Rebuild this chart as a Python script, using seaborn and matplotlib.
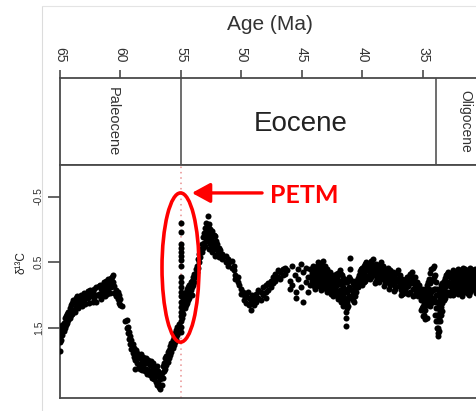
import matplotlib
matplotlib.use("Agg")
import matplotlib.pyplot as plt
from matplotlib.patches import Ellipse
from matplotlib.lines import Line2D
import seaborn as sns
import pandas as pd

# ---------------- data (age in Ma, d13C in permil) ----------------
epoch_bounds = [55.0, 33.9]
epoch_names = ["Paleocene", "Eocene", "Oligocene"]
age_ticks = [65, 60, 55, 50, 45, 40, 35]
d13c_ticks = [-0.5, 0.5, 1.5]
d13c_tick_labels = ["-0.5", "0.5", "1.5"]
petm_age = 55.0

paleocene_pts = [
    (65.0, [1.85, 1.72, 1.60, 1.50]), (64.9, [1.55, 1.68]), (64.8, [1.45, 1.60]),
    (64.7, [1.42, 1.55]), (64.6, [1.35, 1.50]), (64.5, [1.32, 1.46]),
    (64.4, [1.28, 1.42]), (64.3, [1.25, 1.38]), (64.2, [1.20, 1.35]),
    (64.1, [1.15, 1.30]), (64.0, [1.12, 1.28]), (63.9, [1.08, 1.22]),
    (63.8, [1.10, 1.25]), (63.7, [1.05, 1.18]), (63.6, [1.02, 1.15]),
    (63.5, [1.08, 1.20]), (63.3, [1.00, 1.12]), (63.2, [1.06, 1.16]),
    (63.0, [0.96, 1.08]), (62.9, [1.02, 1.14]), (62.7, [0.94, 1.05]),
    (62.6, [1.00, 1.12]), (62.5, [0.92, 1.02]), (62.3, [0.96, 1.10]),
    (62.2, [0.90, 1.04]), (62.0, [0.88, 1.00, 1.10]), (61.8, [0.86, 0.98]),
    (61.7, [0.84, 1.02]), (61.6, [0.90, 1.06]), (61.5, [0.84, 0.96]),
    (61.4, [0.80, 0.95]), (61.3, [0.88, 1.02]), (61.2, [0.78, 0.92]),
    (61.1, [0.84, 0.98]), (61.0, [0.76, 0.90]), (60.9, [0.82, 0.96]),
    (60.8, [0.74, 0.88]), (60.7, [0.72, 0.86]), (60.6, [0.69, 0.80]),
    (60.5, [0.86, 0.96]), (60.4, [0.92, 1.02]), (60.2, [0.95, 1.06]),
    (60.1, [1.00, 1.12]), (60.0, [1.06, 1.15]), (59.9, [1.17]),
    (59.6, [1.40]), (59.5, [1.38, 1.50]), (59.4, [1.48, 1.58]),
    (59.3, [1.56, 1.66]), (59.2, [1.62, 1.74]), (59.1, [1.68, 1.82]),
    (59.0, [1.74, 1.88]), (58.9, [1.80, 1.94]), (58.8, [1.86, 1.98, 2.12]),
    (58.7, [1.84, 1.96]), (58.6, [1.88, 2.04]), (58.5, [1.94, 2.08]),
    (58.4, [1.96, 2.12]), (58.3, [1.90, 2.05]), (58.2, [1.98, 2.14]),
    (58.1, [1.94, 2.08]), (58.0, [2.00, 2.16]), (57.9, [1.96, 2.12]),
    (57.8, [2.04, 2.20]), (57.7, [1.98, 2.14]), (57.6, [2.06, 2.22]),
    (57.5, [2.00, 2.16]), (57.4, [2.08, 2.26]), (57.3, [2.04, 2.20]),
    (57.2, [2.10, 2.28]), (57.1, [2.14, 2.32]), (57.0, [2.08, 2.22, 2.36]),
    (56.9, [2.16, 2.33]), (56.8, [2.24, 2.40]), (56.7, [2.28, 2.43]),
    (56.6, [2.18, 2.36]), (56.5, [2.08, 2.26]), (56.4, [2.03, 2.16]),
    (56.3, [1.96, 2.12]), (56.2, [1.93, 2.06]), (56.1, [1.86, 2.01]),
    (56.0, [1.83, 1.96]), (55.9, [1.78, 1.91]), (55.8, [1.73, 1.86]),
    (55.7, [1.68, 1.81]), (55.6, [1.63, 1.76]), (55.5, [1.58, 1.71]),
    (55.4, [1.53, 1.66]), (55.3, [1.48, 1.61]), (55.2, [1.44, 1.56]),
]

petm_pts = [
    (55.02, [-0.10, 0.04, 0.22, 0.28, 0.34, 0.40, 0.46, 0.55]),
    (54.98, [0.72, 0.80, 0.88, 0.95, 1.02, 1.10, 1.18, 1.25, 1.32, 1.40,
             1.48, 1.56]),
]

eocene_early_pts = [
    (54.9, [1.15, 1.25, 1.35]), (54.8, [1.05, 1.15, 1.28]),
    (54.7, [1.00, 1.10, 1.20]), (54.6, [0.95, 1.05, 1.15]),
    (54.5, [0.90, 1.00, 1.12]), (54.4, [0.88, 0.98, 1.08]),
    (54.3, [0.85, 0.95, 1.05]), (54.2, [0.80, 0.92]),
    (54.1, [0.78, 0.88, 1.00]), (54.0, [0.72, 0.85]), (53.9, [0.68, 0.80]),
    (53.8, [0.60, 0.72]), (53.7, [0.55, 0.65]), (53.6, [0.45, 0.58]),
    (53.5, [0.38, 0.50]), (53.4, [0.30, 0.42]), (53.3, [0.22, 0.35]),
    (53.2, [0.12, 0.28]), (53.1, [0.05, 0.20]), (53.0, [-0.02, 0.10, 0.25]),
    (52.9, [-0.10, 0.05, 0.18]), (52.8, [-0.20, -0.05, 0.12]),
    (52.7, [-0.08, 0.02, 0.15, 0.30]), (52.6, [0.00, 0.10, 0.22]),
    (52.5, [0.05, 0.15, 0.28]), (52.4, [0.02, 0.12, 0.35]),
    (52.3, [0.08, 0.20]), (52.2, [0.10, 0.25, 0.40]), (52.1, [0.18, 0.30]),
    (52.0, [0.22, 0.38]), (51.9, [0.28, 0.42]), (51.8, [0.32]),
    (51.6, [0.38, 0.45]), (51.5, [0.42]), (51.3, [0.40, 0.50]),
    (51.1, [0.45, 0.55]), (51.0, [0.50]), (50.8, [0.48, 0.58]),
    (50.6, [0.55, 0.62]), (50.5, [0.70, 0.75]), (50.3, [0.72, 0.80]),
    (50.2, [0.85]), (50.0, [0.90, 0.98]), (49.9, [0.95]),
    (49.8, [1.00, 1.08]), (49.6, [1.02, 1.12]), (49.5, [0.95]),
    (49.4, [1.05, 1.15]), (49.2, [1.10, 1.22]), (49.1, [1.00]),
    (49.0, [1.05, 1.15]), (48.8, [0.98, 1.10]), (48.6, [0.92, 1.05]),
    (48.4, [0.95, 1.08]), (48.2, [0.88, 1.00]), (48.0, [0.85, 0.95, 1.05]),
    (47.8, [0.82, 0.92]), (47.6, [0.78, 0.88]), (47.4, [0.72, 0.82]),
    (47.2, [0.68, 0.78]), (47.0, [0.62, 0.72]), (46.8, [0.65, 0.75]),
    (46.6, [0.60, 0.70]), (46.4, [0.58, 0.68]), (46.2, [0.62]),
    (46.0, [0.78, 0.90]), (45.8, [0.55, 0.85]), (45.6, [0.70]),
    (45.5, [0.95, 1.05]), (45.3, [0.60, 0.75]), (45.1, [0.52, 0.88]),
    (44.9, [0.65, 1.10]), (44.7, [0.58, 0.80]), (44.5, [0.72, 0.95]),
]

eocene_late_pts = [
    (44.3, [0.60, 0.72, 0.85]), (44.2, [0.66, 0.78]), (44.1, [0.55, 0.68, 0.80]),
    (44.0, [0.62, 0.74, 0.86]), (43.9, [0.62, 0.75, 0.90]),
    (43.8, [0.56, 0.70, 0.84]), (43.7, [0.50, 0.65, 0.78]),
    (43.6, [0.60, 0.72, 0.86]), (43.5, [0.58, 0.70, 0.82]),
    (43.4, [0.54, 0.66, 0.80, 0.92]), (43.3, [0.48, 0.62, 0.75, 0.88]),
    (43.2, [0.58, 0.70, 0.84]), (43.1, [0.55, 0.68, 0.80]),
    (43.0, [0.62, 0.76, 0.90]), (42.9, [0.60, 0.72, 0.85, 0.95]),
    (42.8, [0.66, 0.80, 0.92]), (42.7, [0.65, 0.78, 0.90]),
    (42.6, [0.72, 0.86, 0.98]), (42.5, [0.70, 0.82, 0.95]),
    (42.4, [0.76, 0.90, 1.02]), (42.3, [0.75, 0.88, 1.00]),
    (42.2, [0.68, 0.80, 0.94]), (42.1, [0.72, 0.85, 0.98]),
    (42.0, [0.66, 0.80, 0.94, 1.06]), (41.9, [0.62, 0.78, 0.92, 1.05]),
    (41.8, [0.68, 0.82, 0.96, 1.10]), (41.7, [0.70, 0.85, 1.00, 1.10]),
    (41.6, [0.74, 0.88, 1.02, 1.16]), (41.5, [0.75, 0.90, 1.05, 1.15]),
    (41.4, [0.80, 0.95, 1.10, 1.25, 1.35, 1.47]),
    (41.3, [0.80, 0.95, 1.10, 1.20]), (41.2, [0.76, 0.90, 1.04, 1.16]),
    (41.1, [0.72, 0.88, 1.02]), (41.0, [0.43, 0.60, 0.76, 0.90, 1.04]),
    (40.9, [0.78, 0.92, 1.05]), (40.8, [0.82, 0.96, 1.08]),
    (40.7, [0.85, 0.98, 1.10]), (40.6, [0.78, 0.90, 1.02]),
    (40.5, [0.80, 0.95]), (40.4, [0.74, 0.88]), (40.3, [0.70, 0.85]),
    (40.2, [0.64, 0.78]), (40.1, [0.60, 0.75]), (40.0, [0.58, 0.72, 0.84]),
    (39.9, [0.55, 0.68, 0.80]), (39.8, [0.52, 0.64, 0.78]),
    (39.7, [0.50, 0.62, 0.75]), (39.6, [0.58, 0.72]), (39.5, [0.55, 0.70]),
    (39.4, [0.52, 0.64, 0.76]), (39.3, [0.48, 0.60, 0.72]),
    (39.2, [0.52, 0.66]), (39.1, [0.45, 0.58, 0.70]),
    (39.0, [0.56, 0.70, 0.82]), (38.9, [0.52, 0.65, 0.78]),
    (38.8, [0.62, 0.74]), (38.7, [0.58, 0.70]), (38.6, [0.54, 0.68, 0.80]),
    (38.5, [0.50, 0.62, 0.75]), (38.4, [0.60, 0.72]), (38.3, [0.55, 0.68]),
    (38.2, [0.64, 0.76, 0.86]), (38.1, [0.60, 0.72, 0.82]),
    (38.0, [0.64, 0.76]), (37.9, [0.58, 0.70]), (37.8, [0.66, 0.80, 0.90]),
    (37.7, [0.62, 0.75, 0.85]), (37.6, [0.70, 0.82]), (37.5, [0.65, 0.78]),
    (37.4, [0.72, 0.84, 0.94]), (37.3, [0.68, 0.80, 0.90]),
    (37.2, [0.66, 0.78]), (37.1, [0.62, 0.75]), (37.0, [0.74, 0.86]),
    (36.9, [0.70, 0.82]), (36.8, [0.78, 0.92, 1.00]),
    (36.7, [0.75, 0.88, 0.98]), (36.6, [0.84, 0.96]), (36.5, [0.80, 0.92]),
    (36.4, [0.76, 0.88]), (36.3, [0.72, 0.85]), (36.2, [0.72, 0.86, 0.98]),
    (36.1, [0.68, 0.80, 0.95]), (36.0, [0.70, 0.82]), (35.9, [0.65, 0.78]),
    (35.8, [0.76, 0.90, 1.02]), (35.7, [0.72, 0.85, 1.00]),
    (35.6, [0.84, 0.96]), (35.5, [0.80, 0.92]), (35.4, [0.88, 1.02]),
    (35.3, [0.85, 0.98]), (35.2, [0.94, 1.08, 1.22]),
    (35.1, [0.90, 1.05, 1.20]), (35.0, [1.00, 1.16, 1.32]),
    (34.9, [0.95, 1.10, 1.30]), (34.8, [0.90, 1.05, 1.22, 1.36]),
    (34.7, [0.85, 1.00, 1.15, 1.35]), (34.6, [0.80, 0.95, 1.10]),
    (34.5, [0.75, 0.90, 1.05]), (34.4, [0.66, 0.82, 1.00, 1.16]),
    (34.3, [0.60, 0.78, 0.95, 1.12]), (34.2, [0.58, 0.76, 0.92, 1.08]),
    (34.1, [0.55, 0.72, 0.90, 1.05]),
]

oligocene_pts = [
    (34.0, [0.70, 0.90, 1.10, 1.30]), (33.9, [0.80, 1.00, 1.20, 1.40]),
    (33.85, [0.90, 1.10, 1.30, 1.50]), (33.8, [1.10, 1.30, 1.50, 1.62]),
    (33.75, [1.00, 1.20, 1.40, 1.58]), (33.7, [0.95, 1.15, 1.35, 1.55]),
    (33.6, [0.90, 1.06, 1.24, 1.40]), (33.5, [0.85, 1.00, 1.18, 1.30]),
    (33.4, [0.82, 0.96, 1.12, 1.24]), (33.3, [0.78, 0.92, 1.08]),
    (33.2, [0.74, 0.88, 1.04]), (33.1, [0.70, 0.85, 1.00]),
    (33.0, [0.68, 0.82, 0.98]), (32.9, [0.65, 0.80, 0.95]),
    (32.8, [0.72, 0.86, 1.00]), (32.7, [0.68, 0.82, 0.95]),
    (32.6, [0.66, 0.80, 0.92]), (32.5, [0.62, 0.75, 0.88, 1.00]),
    (32.4, [0.70, 0.84, 0.96]), (32.3, [0.65, 0.78, 0.90]),
    (32.2, [0.66, 0.80, 0.92]), (32.1, [0.60, 0.72, 0.85, 0.98]),
    (32.0, [0.68, 0.82, 0.94]), (31.9, [0.62, 0.75, 0.88]),
    (31.8, [0.64, 0.76, 0.90, 1.02]), (31.7, [0.58, 0.70, 0.82, 0.95]),
    (31.6, [0.66, 0.78, 0.90]), (31.5, [0.60, 0.72, 0.85]),
    (31.4, [0.70, 0.84, 0.96]), (31.3, [0.65, 0.78, 0.90]),
    (31.2, [0.64, 0.76, 0.88, 1.00]), (31.1, [0.58, 0.70, 0.82, 0.95]),
    (31.0, [0.68, 0.80, 0.92]), (30.9, [0.62, 0.75, 0.88]),
    (30.8, [0.66, 0.78, 0.90]), (30.7, [0.60, 0.72, 0.85]),
    (30.6, [0.70, 0.84, 0.96]), (30.5, [0.65, 0.78, 0.90]),
]

# ---------------- build table ----------------
rows = []
for seg in (paleocene_pts, petm_pts, eocene_early_pts, eocene_late_pts,
            oligocene_pts):
    for age, vals in seg:
        for v in vals:
            rows.append((age, v))
df = pd.DataFrame(rows, columns=["age", "d13c"])

# ---------------- style ----------------
sns.set_style("white")
plt.rcParams["font.family"] = ["Liberation Sans", "DejaVu Sans"]
plt.rcParams["axes.unicode_minus"] = False

W, H = 477, 411
fig = plt.figure(figsize=(W / 100, H / 100), dpi=100)


def rect(x0, y0, x1, y1):
    return [x0 / W, 1 - y1 / H, (x1 - x0) / W, (y1 - y0) / H]


XL, XR = 60, 60 + 35 * 12.1
spine_c = "#4a4a4a"

# faint frame lines of the original figure
fig.add_artist(Line2D([42 / W, 42 / W], [0, 1 - 6 / H], color="#dcdcdc", lw=0.8))
fig.add_artist(Line2D([42 / W, 1], [1 - 6 / H, 1 - 6 / H], color="#e4e4e4", lw=0.8))

# ---- epoch strip ----
ax_top = fig.add_axes(rect(XL, 78, XR, 165))
ax_top.set_xlim(65, 30)
ax_top.set_ylim(0, 1)
ax_top.set_yticks([])
ax_top.xaxis.set_ticks_position("top")
ax_top.xaxis.set_label_position("top")
ax_top.set_xticks(age_ticks)
ax_top.set_xticklabels([str(a) for a in age_ticks], rotation=-90, fontsize=10,
                       color="#333333")
ax_top.tick_params(axis="x", direction="out", length=6, width=1.2,
                   color=spine_c, pad=5)
for s in ax_top.spines.values():
    s.set_color(spine_c)
    s.set_linewidth(1.3)
for b in epoch_bounds:
    ax_top.axvline(b, color="#555555", lw=1.2)
ax_top.text(60.6, 0.5, epoch_names[0], rotation=-90, ha="center", va="center",
            fontsize=10.5, color="#333333")
ax_top.text(45.1, 0.47, epoch_names[1], ha="center", va="center",
            fontsize=20, color="#222222")
ax_top.text(31.5, 0.5, epoch_names[2], rotation=-90, ha="center", va="center",
            fontsize=10, color="#333333")
fig.text(270 / W, 1 - 25 / H, "Age (Ma)", ha="center", va="center",
         fontsize=15, color="#333333")

# ---- data panel ----
ax = fig.add_axes(rect(XL, 165, XR, 398))
sns.scatterplot(data=df, x="age", y="d13c", ax=ax, color="black", s=19,
                linewidth=0, legend=False, zorder=3)
ax.set_xlim(65, 30)
ax.set_ylim(2.565, -0.98)
ax.set_xticks([])
ax.set_yticks(d13c_ticks)
ax.set_yticklabels(d13c_tick_labels, rotation=90, va="center", fontsize=7.5,
                   color="#333333")
ax.tick_params(axis="y", direction="out", length=8.5, width=1.2,
               color=spine_c, pad=3, left=True)
ax.set_xlabel("")
ax.set_ylabel("")
for s in ax.spines.values():
    s.set_color(spine_c)
    s.set_linewidth(1.3)
fig.text(22 / W, 1 - 263 / H, "δ¹³C", rotation=90, ha="center", va="center",
         fontsize=8.5, color="#222222")

ax.axvline(petm_age, color="#e89090", lw=1.1, ls=(0, (1, 2.5)), zorder=2)

ell = Ellipse((55.04, 0.58), width=3.06, height=2.27, fill=False,
              edgecolor="red", lw=2.6, zorder=4)
ax.add_patch(ell)
ax.annotate("", xy=(54.1, -0.555), xytext=(48.3, -0.555),
            arrowprops=dict(arrowstyle="-|>,head_length=0.55,head_width=0.3",
                            color="red", lw=2.4, mutation_scale=20,
                            shrinkA=0, shrinkB=0),
            zorder=5)
fig.text(270 / W, 1 - 195 / H, "PETM", ha="left", va="center", fontsize=18,
         fontweight="bold", color="red", family=["Lato", "DejaVu Sans"])

fig.savefig("out.png", dpi=100)
